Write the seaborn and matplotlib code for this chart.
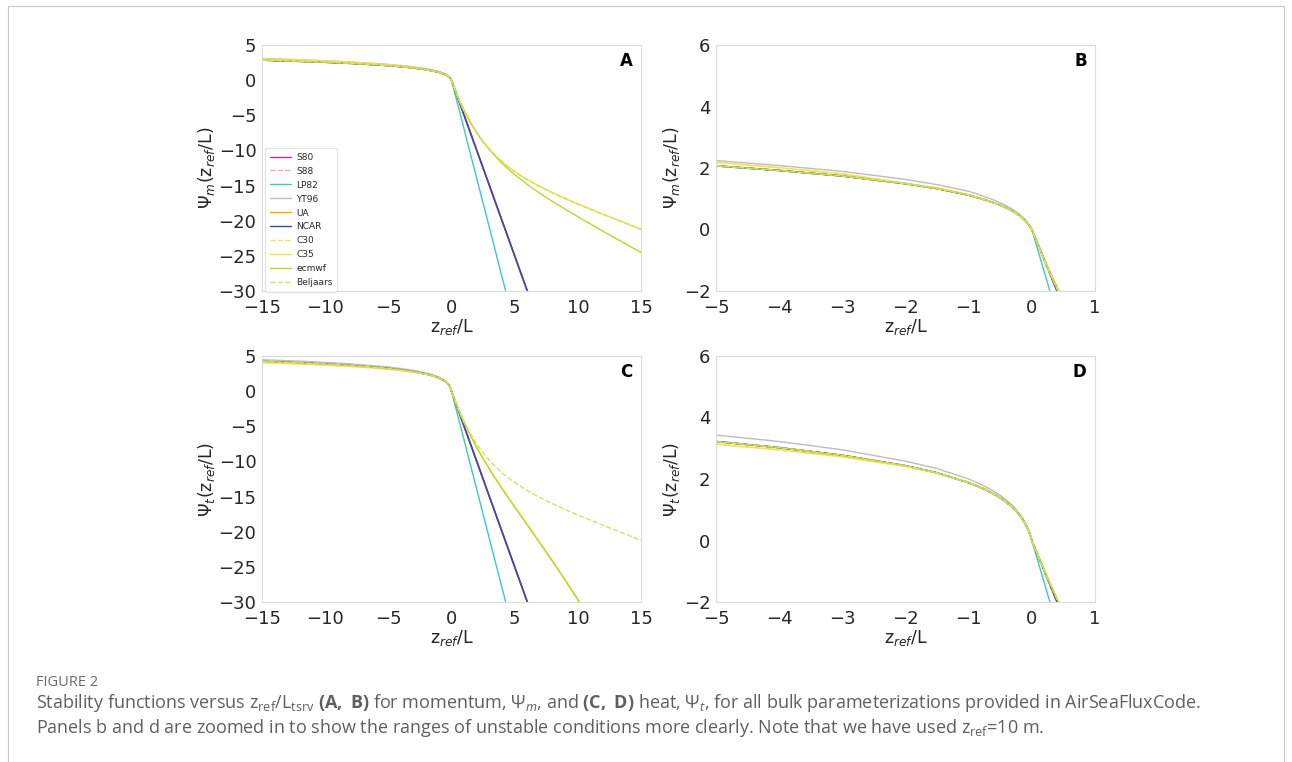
import numpy as np
import pandas as pd
import matplotlib.pyplot as plt
import seaborn as sns
from matplotlib.patches import Rectangle

# stability parameter grid, unstable and stable parts
x_unstable = [-15, -12, -10, -8, -6, -5, -4, -3, -2, -1.5, -1, -0.9, -0.75, -0.6, -0.5,
              -0.4, -0.3, -0.25, -0.2, -0.15, -0.1, -0.05, -0.02]
x_stable = [0, 0.1, 0.25, 0.5, 0.75, 1, 1.5, 2, 2.5, 3, 3.5, 4, 4.5, 5, 6, 7, 8, 9, 10, 12, 15]

psim_unst_kansas = [2.85, 2.68, 2.55, 2.39, 2.19, 2.07, 1.92, 1.74, 1.49, 1.33, 1.12, 1.06, 0.97, 0.87, 0.79,
                    0.70, 0.59, 0.53, 0.46, 0.38, 0.28, 0.16, 0.07]
psim_unst_yt96 = [3.10, 2.91, 2.77, 2.59, 2.37, 2.24, 2.08, 1.89, 1.63, 1.46, 1.24, 1.18, 1.07, 0.96, 0.87,
                  0.77, 0.65, 0.58, 0.50, 0.41, 0.30, 0.17, 0.08]
psim_unst_coare = [3.03, 2.85, 2.71, 2.53, 2.31, 2.18, 2.01, 1.81, 1.50, 1.36, 1.13, 1.07, 0.97, 0.87, 0.79,
                   0.70, 0.59, 0.53, 0.46, 0.38, 0.28, 0.16, 0.07]

psih_unst_kansas = [4.22, 4.02, 3.85, 3.64, 3.38, 3.22, 3.02, 2.77, 2.43, 2.20, 1.88, 1.80, 1.67, 1.51, 1.39,
                    1.24, 1.07, 0.96, 0.84, 0.70, 0.53, 0.32, 0.14]
psih_unst_yt96 = [4.47, 4.27, 4.09, 3.87, 3.60, 3.43, 3.22, 2.95, 2.58, 2.34, 2.00, 1.91, 1.77, 1.60, 1.47,
                  1.31, 1.13, 1.01, 0.88, 0.74, 0.56, 0.33, 0.15]
psih_unst_coare = [4.06, 3.87, 3.71, 3.52, 3.28, 3.13, 2.95, 2.72, 2.41, 2.19, 1.89, 1.80, 1.67, 1.51, 1.39,
                   1.24, 1.07, 0.96, 0.84, 0.70, 0.53, 0.32, 0.14]

# stable side, listed until the line leaves the frame
stab_lin7 = [0, -0.7, -1.75, -3.5, -5.25, -7, -10.5, -14, -17.5, -21, -24.5, -28, -31.5]
stab_lin5 = [0, -0.5, -1.25, -2.5, -3.75, -5, -7.5, -10, -12.5, -15, -17.5, -20, -22.5, -25, -30, -35]
stab_bh = [0, -0.51, -1.24, -2.38, -3.43, -4.39, -6.09, -7.54, -8.78, -9.85, -10.79, -11.61, -12.35, -13.00,
           -14.15, -15.14, -16.03, -16.84, -17.62, -19.09, -21.22]
stab_ecmwf_m = [0, -0.49, -1.20, -2.31, -3.33, -4.28, -5.98, -7.46, -8.75, -9.89, -10.91, -11.83, -12.67, -13.44,
                -14.84, -16.10, -17.27, -18.37, -19.43, -21.50, -24.52]
stab_ecmwf_h = [0, -0.49, -1.21, -2.35, -3.42, -4.43, -6.31, -8.02, -9.60, -11.09, -12.50, -13.86, -15.17, -16.47,
                -19.03, -21.60, -24.21, -26.89, -29.67, -35.52]

schemes = ['S80', 'S88', 'LP82', 'YT96', 'UA', 'NCAR', 'C30', 'C35', 'ecmwf', 'Beljaars']
colors = ['#b5359b', '#e9a6cf', '#3fc6c9', '#bdbdbd', '#ffa500', '#4444ae',
          '#f6e05c', '#f1e24a', '#bdd62e', '#d2e266']
styles = ['-', '--', '-', '-', '-', '-', '--', '-', '-', '--']
widths = [0.9, 0.9, 1.0, 1.0, 0.9, 1.25, 1.0, 1.0, 1.0, 1.0]

psim_parts = {
    'S80': (psim_unst_kansas, stab_lin5), 'S88': (psim_unst_kansas, stab_lin5),
    'LP82': (psim_unst_kansas, stab_lin7), 'YT96': (psim_unst_yt96, stab_lin5),
    'UA': (psim_unst_kansas, stab_lin5), 'NCAR': (psim_unst_kansas, stab_lin5),
    'C30': (psim_unst_coare, stab_bh), 'C35': (psim_unst_coare, stab_bh),
    'ecmwf': (psim_unst_kansas, stab_ecmwf_m), 'Beljaars': (psim_unst_kansas, stab_bh),
}
psih_parts = {
    'S80': (psih_unst_kansas, stab_lin5), 'S88': (psih_unst_kansas, stab_lin5),
    'LP82': (psih_unst_kansas, stab_lin7), 'YT96': (psih_unst_yt96, stab_lin5),
    'UA': (psih_unst_kansas, stab_lin5), 'NCAR': (psih_unst_kansas, stab_lin5),
    'C30': (psih_unst_coare, stab_ecmwf_h), 'C35': (psih_unst_coare, stab_ecmwf_h),
    'ecmwf': (psih_unst_kansas, stab_ecmwf_h), 'Beljaars': (psih_unst_kansas, stab_bh),
}

sns.set_style('white', {'axes.edgecolor': '.86', 'axes.linewidth': 1.0})
plt.rcParams['font.family'] = ['DejaVu Sans']
plt.rcParams['mathtext.rm'] = 'Open Sans'
plt.rcParams['mathtext.it'] = 'Open Sans:italic'
plt.rcParams['mathtext.bf'] = 'Open Sans:bold'

fig = plt.figure(figsize=(12.92, 7.62), dpi=100)
W, H = 1292, 762


def box(left, top, right, bottom):
    return [left / W, 1 - bottom / H, (right - left) / W, (bottom - top) / H]


axA = fig.add_axes(box(262, 45, 641, 291))
axB = fig.add_axes(box(716, 45, 1095, 291))
axC = fig.add_axes(box(262, 356, 641, 602))
axD = fig.add_axes(box(716, 356, 1095, 602))

panels = [(axA, psim_parts, 'A', 'm', 'wide'), (axB, psim_parts, 'B', 'm', 'zoom'),
          (axC, psih_parts, 'C', 't', 'wide'), (axD, psih_parts, 'D', 't', 'zoom')]

for ax, parts, letter, sub, kind in panels:
    for name, col, ls, lw in zip(schemes, colors, styles, widths):
        unst, stab = parts[name]
        xs = x_unstable + x_stable[:len(stab)]
        ys = unst + stab
        sns.lineplot(x=xs, y=ys, ax=ax, color=col, linestyle=ls, linewidth=lw,
                     label=name if letter == 'A' else None, legend=False)
    if kind == 'wide':
        ax.set_xlim(-15, 15)
        ax.set_ylim(-30, 5)
        ax.set_xticks([-15, -10, -5, 0, 5, 10, 15])
        ax.set_yticks([5, 0, -5, -10, -15, -20, -25, -30])
    else:
        ax.set_xlim(-5, 1)
        ax.set_ylim(-2, 6)
        ax.set_xticks([-5, -4, -3, -2, -1, 0, 1])
        ax.set_yticks([-2, 0, 2, 4, 6])
    ax.tick_params(labelsize=13, colors='.15', length=0)
    ax.tick_params(axis='x', pad=6)
    ax.tick_params(axis='y', pad=4)
    ax.set_xlabel('z$_{ref}$/L', fontsize=12.5, color='.15', labelpad=0)
    ax.set_ylabel(r'$\Psi_%s$(z$_{ref}$/L)' % sub, fontsize=12.5, color='.15', labelpad=1)
    ax.text(0.978, 0.935, letter, transform=ax.transAxes, ha='right', va='center',
            fontsize=12, fontweight='bold', color='black')

leg = axA.legend(loc='upper left', bbox_to_anchor=(0.004, 0.588), fontsize=6.5,
                 frameon=True, handlelength=2.3, labelspacing=0.55, borderpad=0.5,
                 handletextpad=0.6, borderaxespad=0.2)
leg.get_frame().set_edgecolor('.85')
leg.get_frame().set_linewidth(0.8)
for h in leg.get_lines():
    h.set_linewidth(1.0)

# outer frame and caption
fig.patches.append(Rectangle((8 / W, -0.01), 1276 / W, 1 - 6 / H + 0.01, transform=fig.transFigure,
                             fill=False, edgecolor='#c8c8c8', linewidth=0.8))
fig.text(36 / W, 1 - 683 / H, 'FIGURE 2', fontsize=10.5, color='#6a6a6a',
         family='Open Sans', va='center')
fig.text(36 / W, 1 - 703 / H,
         r'Stability functions versus z$_\mathregular{ref}$/L$_\mathregular{tsrv}$ $\mathbf{(A,\ B)}$ for momentum, '
         r'$\Psi_m$, and $\mathbf{(C,\ D)}$ heat, $\Psi_t$, for all bulk parameterizations provided in AirSeaFluxCode.',
         fontsize=13, color='#5f5f5f', family='Open Sans', va='center', math_fontfamily='custom')
fig.text(36 / W, 1 - 728 / H,
         r'Panels b and d are zoomed in to show the ranges of unstable conditions more clearly. '
         r'Note that we have used z$_\mathregular{ref}$=10 m.',
         fontsize=13, color='#5f5f5f', family='Open Sans', va='center', math_fontfamily='custom')

plt.savefig('out.png', dpi=100)
